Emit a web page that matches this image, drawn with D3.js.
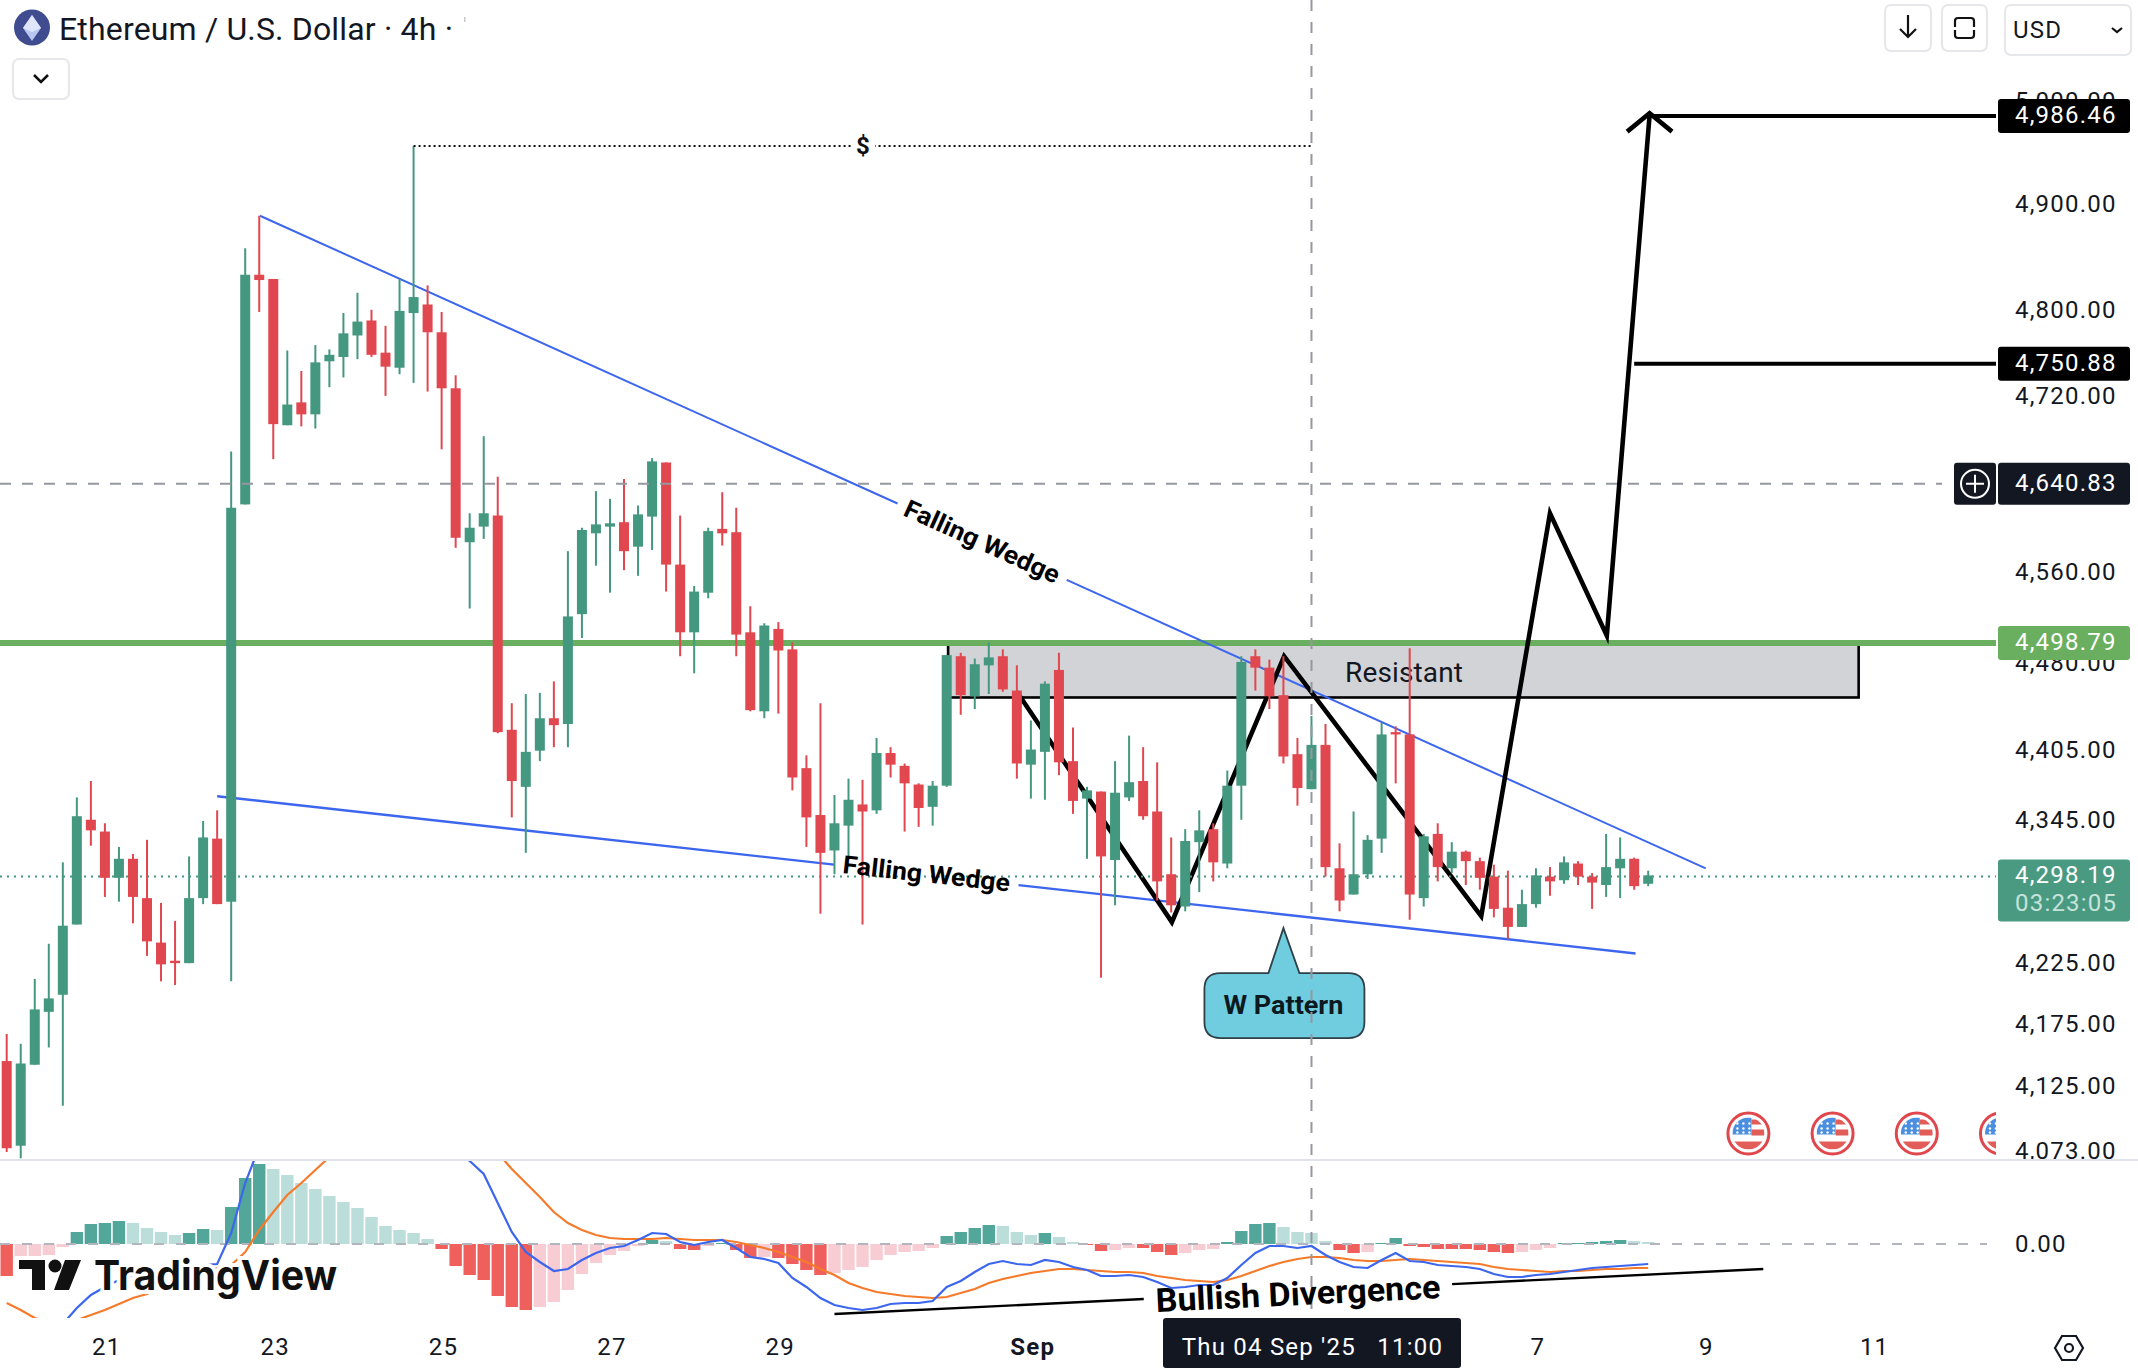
<!DOCTYPE html>
<html>
<head>
<meta charset="utf-8">
<title>ETHUSD 4h</title>
<script src="https://cdn.jsdelivr.net/npm/d3@7/dist/d3.min.js"></script>
<style>
    html, body { margin: 0; padding: 0; background: #ffffff; }
    svg { display: block; }
</style>
</head>
<body>
<svg id="chart" width="2138" height="1368"></svg>
<script>
// 4h candles
const OPENS = [
    4144,4076,4141,4184,4198,4256,4344,4334,4295,4311,
    4278,4241,4226,4224,4278,4328,4275,4620,4832,4828,
    4692,4713,4702,4751,4755,4775,4789,4759,4745,4796,
    4804,4778,4726,4586,4600,4610,4421,4372,4403,4431,
    4426,4522,4594,4600,4604,4582,4609,4658,4566,4506,
    4541,4598,4595,4506,4437,4509,4491,4388,4348,4318,
    4339,4357,4352,4401,4390,4374,4355,4373,4485,4450,
    4477,4485,4455,4391,4402,4473,4394,4362,4368,4310,
    4363,4377,4351,4298,4271,4325,4336,4307,4373,4485,
    4475,4451,4400,4370,4408,4303,4281,4298,4328,4419,
    4417,4278,4332,4303,4317,4309,4296,4270,4254,4273,
    4296,4293,4307,4296,4289,4303,4311,4290];
const CLOSES = [
    4074,4142,4186,4195,4255,4347,4335,4295,4311,4279,
    4242,4223,4224,4278,4329,4273,4617,4832,4827,4693,
    4711,4702,4750,4757,4777,4788,4757,4746,4798,4811,
    4778,4726,4590,4599,4612,4419,4377,4402,4431,4425,
    4520,4597,4602,4603,4578,4611,4659,4566,4506,4542,
    4596,4594,4504,4438,4512,4490,4380,4346,4316,4341,
    4361,4351,4401,4391,4375,4354,4373,4486,4451,4478,
    4484,4456,4392,4404,4461,4393,4360,4369,4313,4367,
    4376,4347,4292,4272,4326,4335,4308,4373,4480,4475,
    4450,4398,4371,4408,4304,4276,4298,4327,4417,4417,
    4281,4330,4304,4317,4309,4295,4269,4254,4273,4297,
    4292,4308,4296,4291,4304,4311,4288,4297];
const HIGHS = [
    4166,4158,4211,4240,4308,4363,4377,4341,4321,4315,
    4327,4274,4259,4313,4343,4352,4668,4857,4888,4828,
    4761,4742,4766,4762,4796,4815,4799,4784,4828,4955,
    4822,4797,4738,4612,4682,4645,4444,4452,4453,4463,
    4578,4599,4632,4625,4643,4619,4662,4658,4610,4547,
    4599,4631,4617,4529,4514,4515,4497,4399,4444,4365,
    4379,4378,4414,4406,4392,4375,4377,4486,4488,4483,
    4497,4491,4477,4429,4463,4488,4423,4372,4368,4394,
    4416,4406,4393,4329,4336,4352,4341,4386,4485,4491,
    4482,4485,4414,4433,4426,4324,4351,4331,4427,4424,
    4492,4332,4341,4325,4318,4312,4306,4301,4285,4303,
    4304,4313,4309,4299,4332,4329,4312,4301];
const LOWS = [
    4071,4066,4141,4155,4108,4256,4322,4279,4275,4257,
    4230,4209,4206,4224,4273,4273,4209,4620,4797,4661,
    4692,4691,4689,4727,4736,4753,4755,4719,4739,4731,
    4723,4670,4581,4527,4589,4418,4346,4316,4394,4406,
    4406,4501,4565,4541,4561,4556,4579,4542,4485,4470,
    4536,4583,4485,4437,4431,4435,4369,4321,4265,4298,
    4311,4256,4349,4380,4334,4338,4339,4372,4434,4439,
    4452,4454,4379,4362,4361,4382,4349,4311,4212,4272,
    4360,4344,4276,4266,4267,4283,4292,4303,4344,4455,
    4439,4392,4356,4370,4296,4267,4281,4294,4316,4375,
    4260,4271,4292,4299,4289,4285,4262,4244,4254,4270,
    4280,4290,4289,4269,4279,4278,4285,4288];

// MACD pane
const MACD_HIST = [
    -32,-13,-12,-11,-3,12,20,21,23,21,
    16,12,9,11,15,14,37,66,80,75,
    69,61,55,48,42,36,27,18,14,11,
    5,-5,-22,-31,-36,-52,-63,-66,-63,-58,
    -46,-30,-19,-11,-7,-2,4,3,-5,-6,
    -2,1,-6,-14,-13,-14,-20,-26,-31,-29,
    -26,-23,-16,-11,-8,-7,-4,8,12,16,
    19,18,12,9,11,7,2,-1,-7,-6,
    -4,-4,-8,-11,-9,-6,-5,2,13,20,
    21,17,12,11,3,-6,-9,-8,1,6,
    -2,-3,-5,-5,-5,-6,-8,-9,-8,-6,
    -4,1,1,2,3,4,3,2];
const MACD_LINE = [
    -110,-105,-100,-92,-80,-64,-51,-43,-36,-31,
    -28,-25,-24,-22,-21,-20,11,61,97,125,
    135,145,150,150,148,142,135,130,125,120,
    115,110,95,83,70,41,12,-8,-18,-27,
    -25,-16,-9,-4,-2,4,11,10,2,-1,
    2,4,-4,-13,-15,-19,-34,-43,-54,-61,
    -64,-66,-64,-60,-59,-59,-57,-43,-37,-28,
    -20,-17,-20,-21,-16,-18,-23,-26,-32,-32,
    -31,-33,-38,-44,-43,-41,-41,-34,-21,-9,
    -2,-2,-4,-2,-11,-18,-23,-24,-16,-9,
    -17,-18,-21,-22,-23,-25,-30,-33,-33,-31,
    -30,-28,-26,-24,-23,-22,-21,-20];
const SIGNAL_LINE = [
    -59,-66,-74,-78,-79,-76,-71,-66,-60,-54,
    -50,-44,-39,-34,-29,-24,-21,-8,14,32,
    49,61,74,87,98,106,112,118,122,125,
    125,122,116,108,100,91,75,61,47,32,
    21,14,9,6,5,5,5,6,5,4,
    4,4,2,-1,-4,-8,-13,-18,-25,-31,
    -39,-44,-48,-50,-52,-53,-54,-53,-49,-45,
    -39,-35,-32,-29,-27,-25,-25,-26,-27,-28,
    -28,-29,-32,-34,-36,-37,-38,-36,-32,-27,
    -22,-18,-15,-13,-13,-14,-16,-17,-17,-16,
    -15,-16,-17,-18,-19,-20,-23,-25,-26,-27,
    -28,-27,-27,-26,-25,-25,-24,-24];

// axes
const PRICE_TICKS = [5000, 4900, 4800, 4720, 4560, 4480, 4405, 4345, 4225, 4175, 4125, 4073];
const TIME_TICK_BARS = [7, 19, 31, 43, 55, 73, 109, 121, 133];
const TIME_TICK_LABELS = ["21", "23", "25", "27", "29", "Sep", "7", "9", "11"];
const EVENT_BARS = [124, 130, 136, 142];

// price levels on the axis
const TARGET_HIGH = 4986.46;
const TARGET_LOW = 4750.88;
const CROSS_PRICE = 4640.83;
const GREEN_LEVEL = 4498.79;
const LAST_PRICE = 4298.19;
const CROSS_BAR = 93;

// drawings, [bar, price]
const WEDGE_TOP = [[18.05, 4888], [121.1, 4303]];
const WEDGE_BOTTOM = [[15, 4364], [116.1, 4232]];
const W_PATH = [[72, 4454], [83.05, 4258], [91.05, 4485], [105.1, 4263], [110, 4612], [114.05, 4503], [117.1, 4985]];
const ARROW_HEAD = [[115.5, 4969], [117.1, 4987], [118.7, 4969]];
const ZONE_BARS = [67.1, 132];
const ZONE_PRICES = [4497, 4449];
const CALLOUT_TIP = [91, 4253];
const DIVERGENCE = [[59, -70], [125.2, -25]];

const PANE_RIGHT = 1996;
const PANE_BOTTOM = 1160;
const MACD_BOTTOM = 1318;
const LEVEL_SHIFT = 2.4; //轴上标签比刻度低一点
const GREEN = "#459880";
const RED = "#e0474f";
const BLUE = "#3d66ee";
const ORANGE = "#f57b2b";
const INK = "#131722";
const GRAY_DASH = "#9598a1";
const FONT = "Roboto, sans-serif";

const X_SCALE = d3.scaleLinear().domain([0, 117]).range([6.7, 1648.2]);
const Y_SCALE = d3.scaleLog().domain([4900, 4073]).range([203.2, 1149.5]);
const MACD_SCALE = d3.scaleLinear().domain([84, -74]).range([1160, 1318]);

const SVG = d3.select("#chart");
const DEFS = SVG.append("defs");
DEFS.append("clipPath").attr("id", "price_clip").append("rect")
    .attr("x", 0).attr("y", 0).attr("width", PANE_RIGHT).attr("height", PANE_BOTTOM);
DEFS.append("clipPath").attr("id", "macd_clip").append("rect")
    .attr("x", 0).attr("y", PANE_BOTTOM + 1).attr("width", PANE_RIGHT).attr("height", MACD_BOTTOM - PANE_BOTTOM - 1);
DEFS.append("clipPath").attr("id", "axis_clip").append("rect")
    .attr("x", PANE_RIGHT).attr("y", 60).attr("width", 142).attr("height", PANE_BOTTOM - 61);

let price_g = SVG.append("g").attr("clip-path", "url(#price_clip)");
let macd_g = SVG.append("g").attr("clip-path", "url(#macd_clip)");

function px(p) {
    return [X_SCALE(p[0]), Y_SCALE(p[1])];
}

/** 画一段折线 **/
function draw_poly(g, points, color, width) {
    return g.append("path")
        .attr("d", d3.line()(points))
        .attr("fill", "none")
        .attr("stroke", color)
        .attr("stroke-width", width)
        .attr("stroke-linejoin", "miter");
}

/** 斜线中间留空，放文字 **/
function draw_labeled_line(g, a, b, t0, t1, color, width, label, label_len, font_size, dy) {
    let mix = t => [a[0] + (b[0] - a[0]) * t, a[1] + (b[1] - a[1]) * t];
    draw_poly(g, [a, mix(t0)], color, width);
    draw_poly(g, [mix(t1), b], color, width);
    let c = mix((t0 + t1) / 2);
    let angle = Math.atan2(b[1] - a[1], b[0] - a[0]) * 180 / Math.PI;
    return () => {
        SVG.append("text")
            .text(label)
            .attr("transform", `translate(${c[0]},${c[1] + dy}) rotate(${angle})`)
            .attr("text-anchor", "middle")
            .attr("dominant-baseline", "central")
            .attr("font-family", FONT)
            .attr("font-weight", 700)
            .attr("font-size", font_size)
            .attr("textLength", label_len)
            .attr("lengthAdjust", "spacingAndGlyphs")
            .attr("fill", "#000000");
    };
}

/** 阻力区 **/
function draw_zone() {
    let [x1, x2] = ZONE_BARS.map(d => X_SCALE(d));
    let [y1, y2] = ZONE_PRICES.map(d => Y_SCALE(d));
    price_g.append("rect")
        .attr("x", x1).attr("y", y1)
        .attr("width", x2 - x1).attr("height", y2 - y1)
        .attr("fill", "#d2d3d6")
        .attr("stroke", "#000000")
        .attr("stroke-width", 2.6);
    price_g.append("text")
        .text("Resistant")
        .attr("x", 1404).attr("y", (y1 + y2) / 2 + 2)
        .attr("text-anchor", "middle")
        .attr("dominant-baseline", "central")
        .attr("font-family", FONT)
        .attr("font-size", 28)
        .attr("textLength", 118)
        .attr("fill", INK);
}

/** 画蜡烛 **/
function draw_candles() {
    let bars = d3.range(OPENS.length);
    let color = i => CLOSES[i] >= OPENS[i] ? GREEN : RED;
    price_g.append("g").selectAll("line").data(bars).join("line")
        .attr("x1", i => X_SCALE(i)).attr("x2", i => X_SCALE(i))
        .attr("y1", i => Y_SCALE(HIGHS[i])).attr("y2", i => Y_SCALE(LOWS[i]))
        .attr("stroke", color)
        .attr("stroke-width", 2);
    price_g.append("g").selectAll("rect").data(bars).join("rect")
        .attr("x", i => X_SCALE(i) - 5)
        .attr("y", i => Y_SCALE(Math.max(OPENS[i], CLOSES[i])))
        .attr("width", 10)
        .attr("height", i => Math.max(2, Math.abs(Y_SCALE(OPENS[i]) - Y_SCALE(CLOSES[i]))))
        .attr("fill", color);
}

/** MACD 面板 **/
function draw_macd() {
    let bars = d3.range(MACD_HIST.length);
    let bar_color = i => {
        let h = MACD_HIST[i], prev = i > 0 ? MACD_HIST[i - 1] : h;
        if (h >= 0) return h >= prev ? "#52a69a" : "#bbdeda";
        return h <= prev ? "#ef5f5b" : "#f7ccd2";
    };
    macd_g.append("g").selectAll("rect").data(bars).join("rect")
        .attr("x", i => X_SCALE(i) - 6.2)
        .attr("y", i => MACD_SCALE(Math.max(0, MACD_HIST[i])))
        .attr("width", 12.4)
        .attr("height", i => Math.abs(MACD_SCALE(MACD_HIST[i]) - MACD_SCALE(0)))
        .attr("fill", bar_color);
    macd_g.append("line")
        .attr("x1", 0).attr("x2", 1987)
        .attr("y1", MACD_SCALE(0)).attr("y2", MACD_SCALE(0))
        .attr("stroke", "#b2b5be")
        .attr("stroke-width", 2)
        .attr("stroke-dasharray", "10 12");
    let line = d3.line().x((d, i) => X_SCALE(i)).y(d => MACD_SCALE(d));
    macd_g.append("path").attr("d", line(SIGNAL_LINE))
        .attr("fill", "none").attr("stroke", ORANGE).attr("stroke-width", 2.2);
    macd_g.append("path").attr("d", line(MACD_LINE))
        .attr("fill", "none").attr("stroke", BLUE).attr("stroke-width", 2.2);
}

/** TradingView 水印 **/
function draw_logo() {
    let g = SVG.append("g");
    let halo = "M15 1256H86V1294H15Z";
    g.append("path").attr("d", halo).attr("fill", "#ffffff");
    g.append("text")
        .text("TradingView")
        .attr("x", 94).attr("y", 1290)
        .attr("font-family", "Inter, sans-serif")
        .attr("font-weight", 700)
        .attr("font-size", 41)
        .attr("textLength", 243)
        .attr("lengthAdjust", "spacingAndGlyphs")
        .attr("fill", "#111111")
        .attr("stroke", "#ffffff")
        .attr("stroke-width", 8)
        .attr("paint-order", "stroke");
    g.append("path").attr("d", "M19 1260H45V1290H32V1269H19Z").attr("fill", "#111111");
    g.append("circle").attr("cx", 55).attr("cy", 1266).attr("r", 6.5).attr("fill", "#111111");
    g.append("path").attr("d", "M65 1260H81L69 1290H54Z").attr("fill", "#111111");
}

/** 美国事件旗标 **/
function draw_flags() {
    let cy = 1133.5;
    DEFS.append("clipPath").attr("id", "flag_clip").append("circle").attr("r", 16);
    let flags = price_g.selectAll("g.flag").data(EVENT_BARS).join("g")
        .attr("class", "flag")
        .attr("transform", d => `translate(${X_SCALE(d) + 2},${cy})`);
    flags.append("circle").attr("r", 20.5)
        .attr("fill", "#ffffff").attr("stroke", "#e0474c").attr("stroke-width", 3);
    let inner = flags.append("g").attr("clip-path", "url(#flag_clip)");
    inner.append("rect").attr("x", -16).attr("y", -16).attr("width", 32).attr("height", 32).attr("fill", "#ffffff");
    inner.append("rect").attr("x", -16).attr("y", -16).attr("width", 19).attr("height", 17).attr("fill", "#4c8fe0");
    inner.append("rect").attr("x", 3).attr("y", -14).attr("width", 13).attr("height", 5).attr("fill", "#e25c58");
    inner.append("rect").attr("x", 3).attr("y", -4).attr("width", 13).attr("height", 6).attr("fill", "#e25c58");
    inner.append("rect").attr("x", -16).attr("y", 8).attr("width", 32).attr("height", 8).attr("fill", "#e25c58");
    [-11, -5, 1].forEach(sx => [-10, -5, -1].forEach(sy => {
        inner.append("circle").attr("cx", sx).attr("cy", sy).attr("r", 1.2).attr("fill", "#ffffff");
    }));
}

/** 价格标签 **/
function draw_tag(price_y, height, fill, text, text_color) {
    SVG.append("rect")
        .attr("x", 1998).attr("y", price_y - height / 2)
        .attr("width", 132).attr("height", height)
        .attr("rx", 3)
        .attr("fill", fill);
    SVG.append("text")
        .text(text)
        .attr("class", "axis_label")
        .attr("x", 2015).attr("y", price_y - 1)
        .attr("dominant-baseline", "central")
        .attr("fill", text_color);
}

/** 价格轴和时间轴 **/
function draw_axes() {
    let price_axis = SVG.append("g")
        .attr("clip-path", "url(#axis_clip)")
        .call(d3.axisRight(Y_SCALE).tickValues(PRICE_TICKS).tickSize(0).tickPadding(0).tickFormat(d3.format(",.2f")));
    price_axis.select(".domain").remove();
    price_axis.selectAll("text").attr("x", 2015).attr("dy", "0.36em").attr("class", "axis_label").attr("fill", INK);

    let macd_axis = SVG.append("g")
        .call(d3.axisRight(MACD_SCALE).tickValues([0]).tickSize(0).tickFormat(d3.format(".2f")));
    macd_axis.select(".domain").remove();
    macd_axis.selectAll("text").attr("x", 2015).attr("class", "axis_label").attr("fill", INK);

    let time_axis = SVG.append("g")
        .attr("transform", "translate(1.4,1338)")
        .call(d3.axisBottom(X_SCALE).tickValues(TIME_TICK_BARS).tickSize(0).tickPadding(0)
            .tickFormat((d, i) => TIME_TICK_LABELS[i]));
    time_axis.select(".domain").remove();
    time_axis.selectAll("text")
        .attr("class", "axis_label")
        .attr("fill", INK)
        .attr("font-weight", (d, i) => TIME_TICK_LABELS[i] === "Sep" ? 700 : 400);
}

/** 顶部工具栏 **/
function draw_header() {
    SVG.append("circle").attr("cx", 32).attr("cy", 27.5).attr("r", 18).attr("fill", "#3f4c8f");
    SVG.append("path").attr("d", "M32 15L41 28L32 41L23 28Z").attr("fill", "#b9c6f2");
    SVG.append("path").attr("d", "M32 15L41 28L32 32L23 28Z").attr("fill", "#dfe5fb");
    SVG.append("text")
        .text("Ethereum / U.S. Dollar · 4h ·")
        .attr("x", 59).attr("y", 29)
        .attr("dominant-baseline", "central")
        .attr("font-family", FONT)
        .attr("font-size", 32)
        .attr("textLength", 394)
        .attr("fill", INK);
    SVG.append("rect").attr("x", 464).attr("y", 17).attr("width", 1.5).attr("height", 5).attr("fill", "#c8c9cc");
    let button = (x, y, w, h) => SVG.append("rect")
        .attr("x", x).attr("y", y).attr("width", w).attr("height", h).attr("rx", 6)
        .attr("fill", "#ffffff").attr("stroke", "#e6e7ea").attr("stroke-width", 2);
    let icon = (d, w) => SVG.append("path").attr("d", d)
        .attr("fill", "none").attr("stroke", "#111111").attr("stroke-width", w);
    button(13, 59, 56, 40);
    icon("M34 75L41 82L48 75", 2.6);
    button(1885, 5, 46, 46);
    icon("M1908 15V37M1900 29L1908 37L1916 29", 2.2);
    button(1942, 5, 45, 46);
    icon("M1955 27V21Q1955 18 1958 18H1971Q1974 18 1974 21V27M1955 30V35Q1955 38 1958 38H1971Q1974 38 1974 35V30", 2.2);
    button(2005, 5, 126, 50);
    SVG.append("text")
        .text("USD")
        .attr("class", "axis_label")
        .attr("x", 2013).attr("y", 30)
        .attr("dominant-baseline", "central")
        .attr("fill", INK);
    icon("M2112 28L2117 32L2122 28", 2.2);
}

/** 右下角设置图标 **/
function draw_gear() {
    SVG.append("path")
        .attr("d", "M2055 1348L2062 1336H2076L2083 1348L2076 1360H2062Z")
        .attr("fill", "none").attr("stroke", INK).attr("stroke-width", 2.2);
    SVG.append("circle").attr("cx", 2069).attr("cy", 1348).attr("r", 4)
        .attr("fill", "none").attr("stroke", INK).attr("stroke-width", 2.2);
}

// ---- 先画在蜡烛下面的东西 ----
draw_zone();
price_g.append("line")
    .attr("x1", 0).attr("x2", PANE_RIGHT)
    .attr("y1", Y_SCALE(GREEN_LEVEL) + LEVEL_SHIFT).attr("y2", Y_SCALE(GREEN_LEVEL) + LEVEL_SHIFT)
    .attr("stroke", "#6aaf5f")
    .attr("stroke-width", 6);
const TOP_LABEL = draw_labeled_line(price_g, px(WEDGE_TOP[0]), px(WEDGE_TOP[1]), 0.441, 0.558,
    BLUE, 2, "Falling Wedge", 168, 25, 0);
const BOTTOM_LABEL = draw_labeled_line(price_g, px(WEDGE_BOTTOM[0]), px(WEDGE_BOTTOM[1]), 0.435, 0.565,
    BLUE, 2.4, "Falling Wedge", 168, 25, -1);
draw_poly(price_g, W_PATH.map(px), "#000000", 4.6);
draw_poly(price_g, ARROW_HEAD.map(px), "#000000", 4.6);
for (let [price, from_bar] of [[TARGET_HIGH, 117.1], [TARGET_LOW, 116]]) {
    price_g.append("line")
        .attr("x1", X_SCALE(from_bar)).attr("x2", PANE_RIGHT)
        .attr("y1", Y_SCALE(price) + LEVEL_SHIFT).attr("y2", Y_SCALE(price) + LEVEL_SHIFT)
        .attr("stroke", "#000000")
        .attr("stroke-width", 4);
}
price_g.append("line")
    .attr("x1", 0).attr("x2", PANE_RIGHT)
    .attr("y1", Y_SCALE(LAST_PRICE) + LEVEL_SHIFT).attr("y2", Y_SCALE(LAST_PRICE) + LEVEL_SHIFT)
    .attr("stroke", GREEN)
    .attr("stroke-width", 2)
    .attr("stroke-dasharray", "2 5");

draw_candles();
draw_flags();
draw_macd();

// 最高点的 $ 虚线
const DOLLAR_Y = Y_SCALE(HIGHS[29]);
price_g.append("line")
    .attr("x1", X_SCALE(29)).attr("x2", X_SCALE(CROSS_BAR))
    .attr("y1", DOLLAR_Y).attr("y2", DOLLAR_Y)
    .attr("stroke", "#111111")
    .attr("stroke-width", 2)
    .attr("stroke-dasharray", "2 3");
price_g.append("rect")
    .attr("x", 851).attr("y", DOLLAR_Y - 12).attr("width", 24).attr("height", 24).attr("fill", "#ffffff");
price_g.append("text")
    .text("$")
    .attr("x", 863).attr("y", DOLLAR_Y)
    .attr("text-anchor", "middle")
    .attr("dominant-baseline", "central")
    .attr("font-family", FONT)
    .attr("font-weight", 700)
    .attr("font-size", 24)
    .attr("fill", "#111111");

// W Pattern 气泡
const TIP = px(CALLOUT_TIP);
const [TIP_X, TIP_Y] = TIP;
const CALL_L = TIP_X - 79, CALL_R = TIP_X + 81, CALL_T = TIP_Y + 45, CALL_B = TIP_Y + 110;
price_g.append("path")
    .attr("d", `M${CALL_L + 16} ${CALL_T}H${TIP_X - 15}L${TIP_X} ${TIP_Y}L${TIP_X + 16} ${CALL_T}H${CALL_R - 16}` +
        `Q${CALL_R} ${CALL_T} ${CALL_R} ${CALL_T + 16}V${CALL_B - 16}Q${CALL_R} ${CALL_B} ${CALL_R - 16} ${CALL_B}` +
        `H${CALL_L + 16}Q${CALL_L} ${CALL_B} ${CALL_L} ${CALL_B - 16}V${CALL_T + 16}Q${CALL_L} ${CALL_T} ${CALL_L + 16} ${CALL_T}Z`)
    .attr("fill", "#70cde0")
    .attr("stroke", "#2f4148")
    .attr("stroke-width", 1.8);
price_g.append("text")
    .text("W Pattern")
    .attr("x", TIP_X).attr("y", (CALL_T + CALL_B) / 2)
    .attr("text-anchor", "middle")
    .attr("dominant-baseline", "central")
    .attr("font-family", FONT)
    .attr("font-weight", 700)
    .attr("font-size", 25)
    .attr("textLength", 120)
    .attr("lengthAdjust", "spacingAndGlyphs")
    .attr("fill", "#0c1a20");

// 十字线
SVG.append("line")
    .attr("x1", X_SCALE(CROSS_BAR)).attr("x2", X_SCALE(CROSS_BAR))
    .attr("y1", 0).attr("y2", MACD_BOTTOM)
    .attr("stroke", GRAY_DASH)
    .attr("stroke-width", 2)
    .attr("stroke-dasharray", "11 11");
SVG.append("line")
    .attr("x1", 0).attr("x2", 1942)
    .attr("y1", Y_SCALE(CROSS_PRICE) + LEVEL_SHIFT).attr("y2", Y_SCALE(CROSS_PRICE) + LEVEL_SHIFT)
    .attr("stroke", GRAY_DASH)
    .attr("stroke-width", 2)
    .attr("stroke-dasharray", "11 11");

// 面板分隔线
SVG.append("line")
    .attr("x1", 0).attr("x2", 2138)
    .attr("y1", PANE_BOTTOM).attr("y2", PANE_BOTTOM)
    .attr("stroke", "#e0e3eb")
    .attr("stroke-width", 2);

draw_logo();

// 背离线
const DIV_A = [X_SCALE(DIVERGENCE[0][0]), MACD_SCALE(DIVERGENCE[0][1])];
const DIV_B = [X_SCALE(DIVERGENCE[1][0]), MACD_SCALE(DIVERGENCE[1][1])];
const DIV_LABEL = draw_labeled_line(SVG, DIV_A, DIV_B, 0.333, 0.665,
    "#000000", 2.4, "Bullish Divergence", 285, 33, 2);

TOP_LABEL();
BOTTOM_LABEL();

draw_axes();

// 轴上标签
draw_tag(Y_SCALE(TARGET_HIGH) + LEVEL_SHIFT, 34, "#000000", "4,986.46", "#ffffff");
draw_tag(Y_SCALE(TARGET_LOW) + LEVEL_SHIFT, 34, "#000000", "4,750.88", "#ffffff");
draw_tag(Y_SCALE(CROSS_PRICE) + LEVEL_SHIFT, 42, INK, "4,640.83", "#ffffff");
draw_tag(Y_SCALE(GREEN_LEVEL) + LEVEL_SHIFT, 34, "#6aaf5f", "4,498.79", "#ffffff");
const LAST_Y = Y_SCALE(LAST_PRICE) + LEVEL_SHIFT;
SVG.append("rect")
    .attr("x", 1998).attr("y", LAST_Y - 17)
    .attr("width", 132).attr("height", 62)
    .attr("rx", 3)
    .attr("fill", "#4a9a82");
SVG.append("text").text("4,298.19").attr("class", "axis_label")
    .attr("x", 2015).attr("y", LAST_Y - 1)
    .attr("dominant-baseline", "central")
    .attr("fill", "#ffffff");
SVG.append("text").text("03:23:05").attr("class", "axis_label")
    .attr("x", 2015).attr("y", LAST_Y + 27)
    .attr("dominant-baseline", "central")
    .attr("fill", "#c6e3da");

// 加号按钮
const CROSS_Y = Y_SCALE(CROSS_PRICE) + LEVEL_SHIFT;
SVG.append("rect")
    .attr("x", 1954).attr("y", CROSS_Y - 21)
    .attr("width", 42).attr("height", 42)
    .attr("rx", 3)
    .attr("fill", INK);
SVG.append("circle").attr("cx", 1975).attr("cy", CROSS_Y).attr("r", 14)
    .attr("fill", "none").attr("stroke", "#ffffff").attr("stroke-width", 2);
SVG.append("path").attr("d", `M1975 ${CROSS_Y - 9}V${CROSS_Y + 9}M1966 ${CROSS_Y}H1984`)
    .attr("stroke", "#ffffff").attr("stroke-width", 2);

// 时间标签
SVG.append("rect")
    .attr("x", 1163).attr("y", MACD_BOTTOM)
    .attr("width", 298).attr("height", 50)
    .attr("rx", 3)
    .attr("fill", INK);
SVG.append("text")
    .text("Thu 04 Sep '25   11:00")
    .attr("xml:space", "preserve")
    .style("white-space", "pre")
    .attr("class", "axis_label")
    .attr("x", X_SCALE(CROSS_BAR) + 1).attr("y", 1347)
    .attr("text-anchor", "middle")
    .attr("dominant-baseline", "central")
    .attr("fill", "#ffffff");

draw_gear();
draw_header();
DIV_LABEL();

SVG.selectAll(".axis_label")
    .attr("font-family", FONT)
    .attr("font-size", 24)
    .attr("letter-spacing", 1.2);
</script>
</body>
</html>
